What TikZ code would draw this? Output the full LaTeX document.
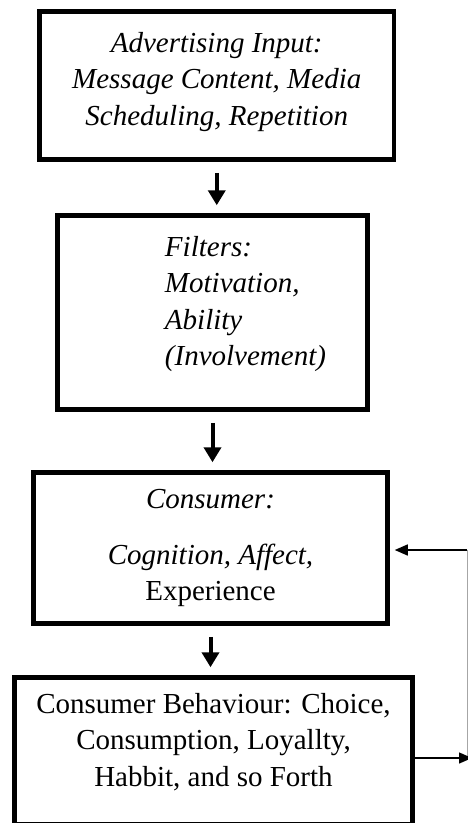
\documentclass[tikz,border=0pt]{standalone}
\usepackage{fontspec}
\setmainfont{Liberation Serif}
\usetikzlibrary{arrows.meta}

\tikzset{
  box/.style={draw, line width=4.5pt, inner sep=0pt, font=\fontsize{29}{36.5}\selectfont},
  flow/.style={line width=4pt, -{Triangle[length=15pt,width=17pt]}, shorten <=11pt, shorten >=8pt},
  fb/.style={line width=1.4pt, -{Triangle[length=13pt,width=11pt]}}
}

\begin{document}
\begin{tikzpicture}[x=1pt, y=-1pt]
    \useasboundingbox (0, 0) rectangle (468, 823);

    \node[box, align=center, font=\fontsize{29}{36.5}\selectfont\itshape, minimum width=354.5pt,
          minimum height=148pt, text depth=14pt] (adv) at (216.75, 85.5)
         {Advertising Input:\\ Message Content, Media\\ Scheduling, Repetition};
    \node[box, font=\fontsize{29}{36.5}\selectfont\itshape, minimum width=310pt,
          minimum height=194pt] (filters) at (212.5, 312.5)
         {\hspace*{66pt}\begin{tabular}{@{}l@{}}Filters:\\ Motivation,\\ Ability\\ (Involvement)\\[18pt]\end{tabular}};
    \node[box, align=center, minimum width=354pt, minimum height=151pt] (consumer) at (210.5, 548)
         {{\itshape Consumer:}\\[19.5pt] {\itshape Cognition, Affect,}\\ Experience};
    \node[box, align=center, minimum width=398pt, minimum height=147pt,
          text depth=23pt] (behav) at (213.5, 751)
         {Consumer Behaviour: Choice,\\ Consumption, Loyallty,\\ Habbit, and so Forth};

    \draw[flow] (adv.south) -- (adv.south |- filters.north);
    \draw[flow] (filters.south) -- (filters.south |- consumer.north);
    \draw[flow] (consumer.south) -- (consumer.south |- behav.north);

    \coordinate (fbin) at (467, 550);
    \coordinate (fbout) at (467, 758);
    \draw[line width=0.6pt, black!35] (fbout) -- (fbin);
    \draw[fb] (behav.east |- fbout) -- ([xshift=5pt]fbout);
    \draw[fb, shorten >=5pt] (fbin) -- (consumer.east |- fbin);
  \end{tikzpicture}
\end{document}
